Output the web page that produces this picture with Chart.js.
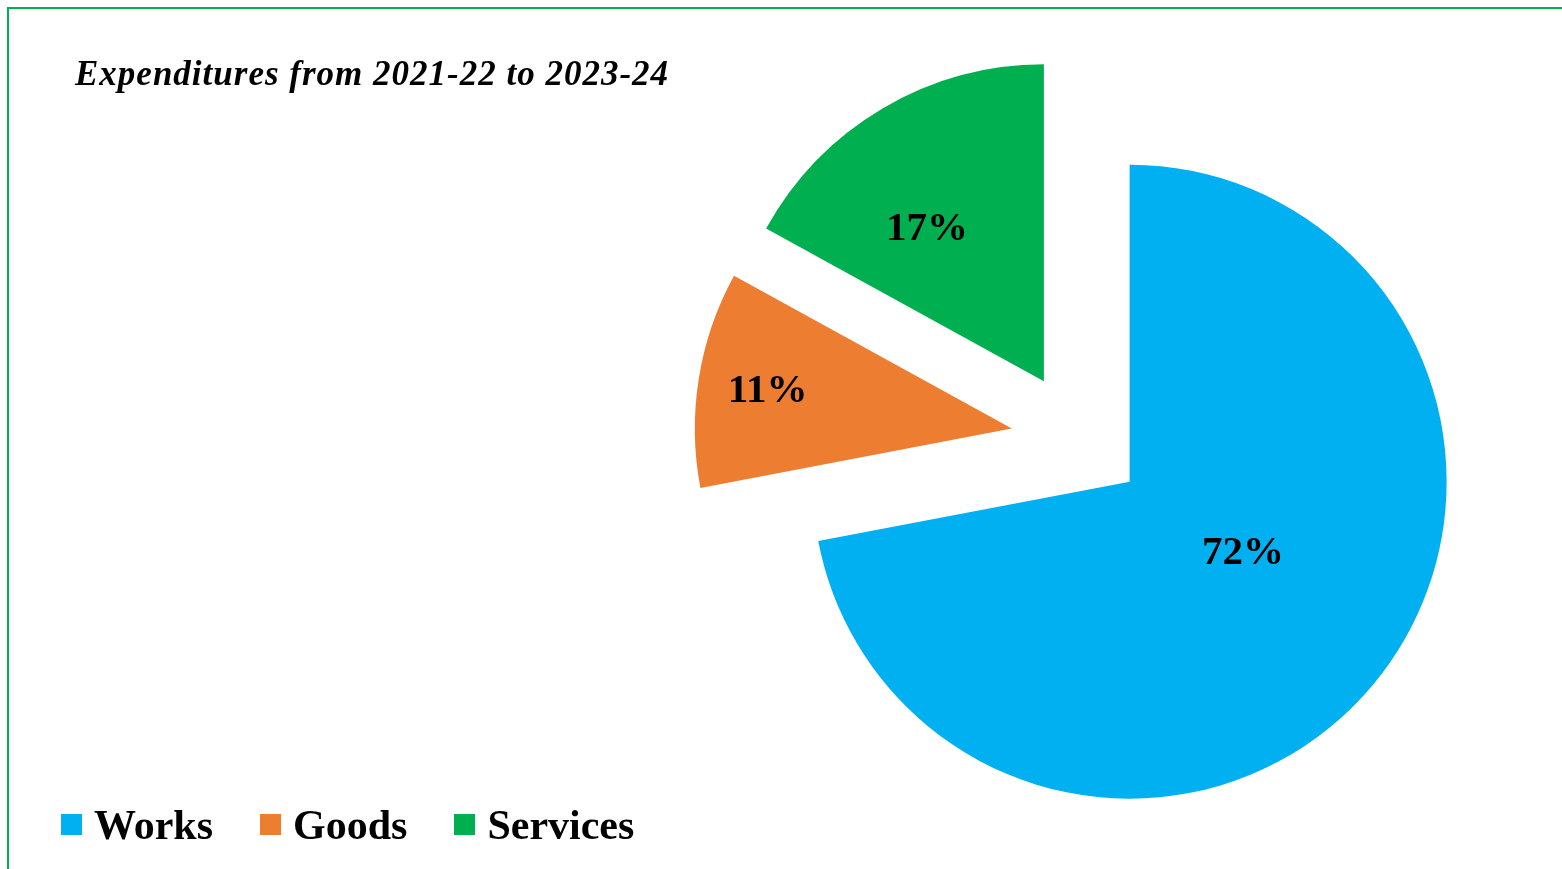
<!DOCTYPE html>
<html>
<head>
<meta charset="utf-8">
<title>Expenditures from 2021-22 to 2023-24</title>
<script src="https://cdn.jsdelivr.net/npm/chart.js@4.4.1/dist/chart.umd.min.js"></script>
<style>
    html, body { margin: 0; padding: 0; background: #fff; overflow: hidden; }
    body { width: 1562px; height: 869px; position: relative; }
    .frame {
        position: absolute; left: 7px; top: 7px; right: 0; bottom: 0;
        border-left: 2px solid #00b050; border-top: 2px solid #00b050;
    }
    .chart-box { position: absolute; left: 0; top: 0; width: 1562px; height: 869px; }
    .chart-title {
        position: absolute; left: 75px; top: 56px; margin: 0;
        font: italic bold 35px "Liberation Serif", "Times New Roman", serif;
        line-height: 1; letter-spacing: 1px; color: #000; white-space: nowrap;
    }
    .legend {
        position: absolute; left: 61px; top: 804px; margin: 0; padding: 0;
        list-style: none; display: flex; gap: 47px;
        font: bold 42px "Liberation Serif", "Times New Roman", serif;
        line-height: 1; color: #000; white-space: nowrap;
    }
    .legend li { display: flex; align-items: center; }
    .legend-box { width: 21px; height: 21px; margin-right: 12px; position: relative; top: -1px; }
</style>
</head>
<body>
<div class="frame"></div>
<div class="chart-box"><canvas id="expenditureChart"></canvas></div>
<h1 class="chart-title">Expenditures from 2021-22 to 2023-24</h1>
<ul class="legend" id="legendList"></ul>

<script>
// Share of expenditure by procurement type (%)
const categories = ['Works', 'Goods', 'Services'];
const shares = [72, 11, 17];
const sliceColors = ['#00B0F0', '#ED7D31', '#00B050'];

const serif = "'Liberation Serif', 'Times New Roman', serif";

// Pull every slice out from the centre (like an exploded Excel pie)
const explodePlugin = {
    id: 'explode',
    beforeDatasetDraw(chart, args, opts) {
        const ctx = chart.ctx;
        args.meta.data.forEach(arc => {
            const mid = (arc.startAngle + arc.endAngle) / 2;
            ctx.save();
            ctx.translate(Math.cos(mid) * opts.distance, Math.sin(mid) * opts.distance);
            arc.draw(ctx);
            ctx.restore();
        });
        return false;
    }
};

// Percent labels inside the slices
const sliceLabelPlugin = {
    id: 'sliceLabels',
    afterDatasetsDraw(chart, args, opts) {
        const ctx = chart.ctx;
        const meta = chart.getDatasetMeta(0);
        const values = chart.data.datasets[0].data;
        const total = values.reduce((a, b) => a + b, 0);
        const shift = chart.options.plugins.explode.distance;
        ctx.save();
        ctx.font = opts.font;
        ctx.fillStyle = opts.color;
        ctx.textAlign = 'center';
        ctx.textBaseline = 'middle';
        meta.data.forEach((arc, i) => {
            const mid = (arc.startAngle + arc.endAngle) / 2;
            const place = opts.placement[i];
            const a = mid + place.turn * Math.PI / 180;
            const x = arc.x + Math.cos(mid) * shift + Math.cos(a) * arc.outerRadius * place.r;
            const y = arc.y + Math.sin(mid) * shift + Math.sin(a) * arc.outerRadius * place.r;
            ctx.fillText(Math.round(values[i] / total * 100) + '%', x, y + opts.dy);
        });
        ctx.restore();
    }
};

// Legend built from Chart.js legend items, laid out in the page
const htmlLegendPlugin = {
    id: 'htmlLegend',
    afterUpdate(chart, args, opts) {
        const list = document.getElementById(opts.containerID);
        list.innerHTML = '';
        const items = chart.options.plugins.legend.labels.generateLabels(chart);
        items.forEach(item => {
            const li = document.createElement('li');
            const box = document.createElement('span');
            box.className = 'legend-box';
            box.style.background = item.fillStyle;
            const text = document.createElement('span');
            text.textContent = item.text;
            li.appendChild(box);
            li.appendChild(text);
            list.appendChild(li);
        });
    }
};

new Chart(document.getElementById('expenditureChart'), {
    type: 'pie',
    data: {
        labels: categories,
        datasets: [{
            data: shares,
            backgroundColor: sliceColors,
            borderWidth: 0,
            clip: false
        }]
    },
    options: {
        responsive: true,
        maintainAspectRatio: false,
        animation: false,
        events: [],
        radius: 317,
        layout: {
            padding: { left: 594, right: 0, top: 9, bottom: 0 }
        },
        plugins: {
            legend: { display: false },
            title: { display: false },
            tooltip: { enabled: false },
            htmlLegend: { containerID: 'legendList' },
            explode: { distance: 67 },
            sliceLabels: {
                font: 'bold 41px ' + serif,
                color: '#000',
                dy: 2,
                placement: [
                    { r: 0.42, turn: -8 },
                    { r: 0.78, turn: 0 },
                    { r: 0.61, turn: -6.6 }
                ]
            }
        }
    },
    plugins: [explodePlugin, sliceLabelPlugin, htmlLegendPlugin]
});
</script>
</body>
</html>
